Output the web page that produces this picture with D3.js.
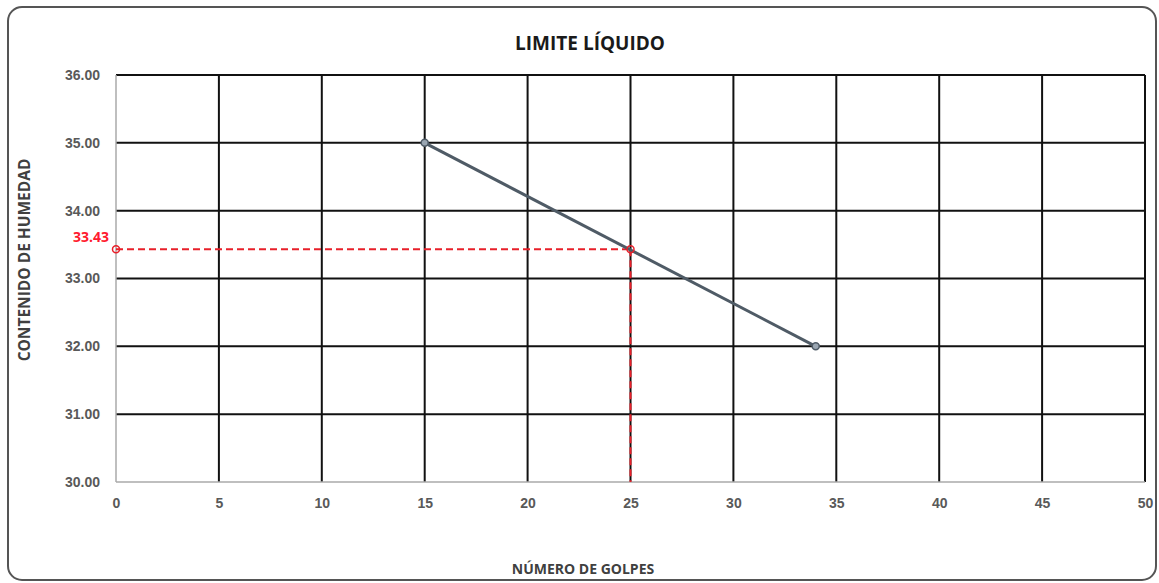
<!DOCTYPE html>
<html>
<head>
<meta charset="utf-8">
<script src="https://cdn.jsdelivr.net/npm/d3@7"></script>
<style>
  body { margin: 0; background: #fff; }
  svg { display: block; font-family: "Open Sans", "Liberation Sans", sans-serif; }
</style>
</head>
<body>
<svg id="chart" width="1159" height="583"></svg>
<script>
// data
const golpes = [15, 34];
const humedad = [35.00, 32.00];
const limiteGolpes = 25;
const limiteHumedad = 33.43;
const xTicks = [0, 5, 10, 15, 20, 25, 30, 35, 40, 45, 50];
const yTicks = [30, 31, 32, 33, 34, 35, 36];

const svg = d3.select('#chart');
const margin = { top: 75, right: 14, bottom: 101, left: 116 };
const width = 1159 - margin.left - margin.right;
const height = 583 - margin.top - margin.bottom;

// outer frame
svg.append('rect')
  .attr('x', 8).attr('y', 7)
  .attr('width', 1148).attr('height', 573)
  .attr('rx', 14)
  .attr('fill', '#fff')
  .attr('stroke', '#555')
  .attr('stroke-width', 2);

const g = svg.append('g').attr('transform', `translate(${margin.left},${margin.top})`);

const x = d3.scaleLinear().domain([0, 50]).range([0, width]);
const y = d3.scaleLinear().domain([30, 36]).range([height, 0]);

// grid
g.append('g')
  .selectAll('line')
  .data(yTicks.filter(d => d > 30))
  .join('line')
  .attr('x1', 0).attr('x2', width)
  .attr('y1', d => y(d)).attr('y2', d => y(d))
  .attr('stroke', '#111').attr('stroke-width', 2);

g.append('g')
  .selectAll('line')
  .data(xTicks.filter(d => d > 0))
  .join('line')
  .attr('x1', d => x(d)).attr('x2', d => x(d))
  .attr('y1', 0).attr('y2', height)
  .attr('stroke', '#111').attr('stroke-width', 2);

// axes lines (light gray)
g.append('line')
  .attr('x1', 0).attr('x2', 0).attr('y1', 0).attr('y2', height)
  .attr('stroke', '#aaa').attr('stroke-width', 1.5);
g.append('line')
  .attr('x1', 0).attr('x2', width).attr('y1', height).attr('y2', height)
  .attr('stroke', '#aaa').attr('stroke-width', 1.5);

// tick labels
const yAxis = g.append('g')
  .call(d3.axisLeft(y).tickValues(yTicks).tickFormat(d3.format('.2f')).tickSize(0).tickPadding(16));
const xAxis = g.append('g')
  .attr('transform', `translate(0,${height})`)
  .call(d3.axisBottom(x).tickValues(xTicks).tickSize(0).tickPadding(16));
[yAxis, xAxis].forEach(a => {
  a.select('.domain').remove();
  a.selectAll('text')
    .attr('fill', '#595959')
    .style('font-size', '14px')
    .style('font-weight', 'bold');
});

// red dashed guide lines for the liquid limit
g.append('line')
  .attr('x1', x(0)).attr('x2', x(limiteGolpes))
  .attr('y1', y(limiteHumedad)).attr('y2', y(limiteHumedad))
  .attr('stroke', '#e8202a').attr('stroke-width', 2)
  .attr('stroke-dasharray', '7,4');
g.append('line')
  .attr('x1', x(limiteGolpes)).attr('x2', x(limiteGolpes))
  .attr('y1', y(limiteHumedad)).attr('y2', y(30))
  .attr('stroke', '#e8202a').attr('stroke-width', 2)
  .attr('stroke-dasharray', '7,4');

// data line
const pts = golpes.map((d, i) => ({ x: d, y: humedad[i] }));
g.append('path')
  .datum(pts)
  .attr('fill', 'none')
  .attr('stroke', '#4f5b66')
  .attr('stroke-width', 3)
  .attr('d', d3.line().x(d => x(d.x)).y(d => y(d.y)));

g.selectAll('circle.pt')
  .data(pts)
  .join('circle')
  .attr('class', 'pt')
  .attr('cx', d => x(d.x)).attr('cy', d => y(d.y))
  .attr('r', 3.5)
  .attr('fill', '#9aa6b2')
  .attr('stroke', '#4f5b66')
  .attr('stroke-width', 1.5);

// red markers
g.selectAll('circle.lim')
  .data([{ x: 0, y: limiteHumedad }, { x: limiteGolpes, y: limiteHumedad }])
  .join('circle')
  .attr('class', 'lim')
  .attr('cx', d => x(d.x)).attr('cy', d => y(d.y))
  .attr('r', 3.5)
  .attr('fill', 'none')
  .attr('stroke', '#e8202a')
  .attr('stroke-width', 1.5);

g.append('text')
  .attr('x', -7)
  .attr('y', y(limiteHumedad) - 7)
  .attr('text-anchor', 'end')
  .attr('fill', '#ff1a2e')
  .style('font-size', '14px')
  .style('font-weight', 'bold')
  .text(limiteHumedad.toFixed(2));

// titles
svg.append('text')
  .attr('x', 590).attr('y', 50)
  .attr('text-anchor', 'middle')
  .attr('fill', '#1a1a1a')
  .style('font-size', '19px')
  .style('font-weight', 'bold')
  .text('LIMITE LÍQUIDO');

svg.append('text')
  .attr('transform', 'translate(30,260) rotate(-90)')
  .attr('text-anchor', 'middle')
  .attr('fill', '#404040')
  .style('font-size', '15.5px')
  .style('font-weight', 'bold')
  .text('CONTENIDO DE HUMEDAD');

svg.append('text')
  .attr('x', 583).attr('y', 574)
  .attr('text-anchor', 'middle')
  .attr('fill', '#404040')
  .style('font-size', '14px')
  .style('font-weight', 'bold')
  .text('NÚMERO DE GOLPES');
</script>
</body>
</html>
